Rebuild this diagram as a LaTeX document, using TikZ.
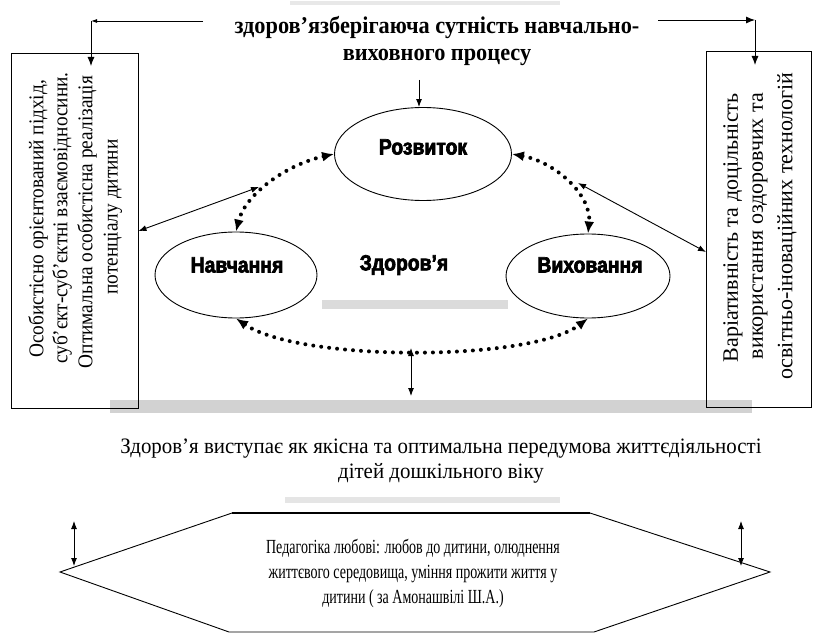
\documentclass[tikz,border=0pt]{standalone}
\usepackage{fontspec}
\setmainfont{Liberation Serif}
\newfontfamily\titlefont{Liberation Serif}[FakeStretch=0.93]
\newfontfamily\heavyfont{Liberation Sans}[FakeStretch=0.88,BoldFeatures={FakeBold=3}]
\newfontfamily\bodyfont{Liberation Serif}[FakeStretch=0.95]
\newfontfamily\sidefont{Liberation Serif}[FakeStretch=1.0]
\newfontfamily\lsidefont{Liberation Serif}[FakeStretch=0.92]
\newfontfamily\hexfont{Liberation Serif}[FakeStretch=0.7]
\usetikzlibrary{arrows.meta,shapes.geometric}
\begin{document}
\begin{tikzpicture}[x=1pt,y=-1pt,
  ell/.style={draw, ellipse, line width=0.9pt, inner sep=0pt},
  heavy/.style={font=\heavyfont\bfseries\fontsize{22}{26}\selectfont, inner sep=0pt},
  boxstyle/.style={draw, line width=0.9pt, inner sep=0pt},
  sidetext/.style={font=\sidefont\fontsize{22}{25}\selectfont, rotate=90, inner sep=0pt},
  lsidetext/.style={font=\lsidefont\fontsize{21}{25}\selectfont, rotate=90, inner sep=0pt},
  sol/.style={line width=0.9pt},
  solarr/.style={sol, {Latex[length=8pt,width=6pt]}-{Latex[length=8pt,width=6pt]}},
  dotarr/.style={line width=4pt, line cap=round, dash pattern=on 0pt off 8pt,
     {Latex[length=12pt,width=10pt]}-{Latex[length=12pt,width=10pt]}},
  band/.style={fill=gray!35}
]
\clip (0,0) rectangle (816,636);
\fill[white] (0,0) rectangle (816,636);

% faint scan bands
\fill[gray!18] (290,1) rectangle (560,5);
\fill[band] (110,400) rectangle (752,413);
\fill[gray!28] (322,300) rectangle (508,309);
\fill[gray!20] (285,497) rectangle (560,503);

% title
\node[font=\titlefont\bfseries\fontsize{24}{27}\selectfont, align=center, inner sep=0pt] (title) at (437,41)
  {здоров’язберігаюча сутність навчально-\\виховного процесу};

% side boxes
\node[boxstyle, minimum width=127pt, minimum height=355pt] (lbox) at (74.5,231) {};
\node[boxstyle, minimum width=105pt, minimum height=356pt] (rbox) at (758.5,229) {};

\node[lsidetext] (l1) at (38,219) {Особистісно орієнтований підхід,};
\node[lsidetext] (l2) at (62,218) {суб’єкт-суб’єктні взаємовідносини.};
\node[lsidetext] (l3) at (87,222) {Оптимальна особистісна реалізація};
\node[lsidetext] (l4) at (113,217) {потенціалу дитини};

\node[sidetext] (r1) at (733,228) {Варіативність та доцільність};
\node[sidetext] (r2) at (760,226) {використання оздоровчих та};
\node[sidetext] (r3) at (787,226) {освітньо-іноваційних технологій};

% top connectors
\coordinate (lstart) at (203,21);
\coordinate (lcorner) at (91,21);
\coordinate (ltip) at (91,66);
\draw[sol,-{Latex[length=6pt,width=4pt]}] (lstart) -- (lcorner);
\draw[sol,-{Latex[length=9pt,width=7pt]}] (lcorner) -- (ltip);
\coordinate (rstart) at (658,20);
\coordinate (rcorner) at (755,20);
\coordinate (rtip) at (755,65);
\draw[sol,-{Latex[length=9pt,width=7pt]}] (rstart) -- (rcorner);
\draw[sol,-{Latex[length=9pt,width=7pt]}] (rcorner) -- (rtip);

% ellipses
\node[ell, minimum width=177pt, minimum height=93pt] (rozv) at (423,154) {};
\node[ell, minimum width=162pt, minimum height=86pt] (navch) at (236,275) {};
\node[ell, minimum width=164pt, minimum height=84pt] (vykh) at (588,276) {};
\node[heavy] (rozvt) at (423,147) {Розвиток};
\node[heavy] (navcht) at (237,265) {Навчання};
\node[heavy] (vykht) at (590,265) {Виховання};
\node[heavy] (zdor) at (404,265) {Здоров’я};

% title arrow
\coordinate (tarr) at (419,80);
\draw[sol,-{Latex[length=8pt,width=6pt]}] (tarr) -- (tarr |- rozv.north);

% dotted arrows
\draw[dotarr] (rozv.west) .. controls (285,165) and (245,195) .. (navch.north);
\draw[dotarr] (rozv.east) .. controls (555,162) and (592,195) .. (vykh.north);
\draw[dotarr] (navch.south) .. controls (300,362) and (530,362) .. (vykh.south);

% solid diagonal connectors
\coordinate (lmeet) at (259,187);
\draw[solarr] (lmeet) -- (lbox.east);
\coordinate (rmeet) at (578,183);
\coordinate (rend) at (706,252);
\draw[solarr] (rmeet) -- (rend);

% vertical double arrow
\coordinate (vtop) at (411,348);
\coordinate (vbot) at (411,396);
\draw[solarr] (vtop) -- (vbot);

% bottom text
\node[font=\bodyfont\fontsize{22}{25}\selectfont, align=center, inner sep=0pt] (concl) at (441,461)
  {Здоров’я виступає як якісна та оптимальна передумова життєдіяльності\\дітей дошкільного віку};

% hexagon
\draw[line width=0.9pt] (232,513) -- (590,513) -- (770,572) -- (594,632) -- (229,632) -- (60,572) -- cycle;
\draw[line width=2pt] (232,513) -- (590,513);
\node[font=\hexfont\fontsize{20}{25}\selectfont, align=center, inner sep=0pt] (hext) at (413,573)
  {Педагогіка любові: любов до дитини, олюднення\\життєвого середовища, уміння прожити життя у\\дитини ( за Амонашвілі Ш.А.)};

\coordinate (ha1) at (74,521);
\coordinate (ha2) at (74,566);
\draw[solarr] (ha1) -- (ha2);
\coordinate (hb1) at (741,521);
\coordinate (hb2) at (741,566);
\draw[solarr] (hb1) -- (hb2);
\end{tikzpicture}
\end{document}
